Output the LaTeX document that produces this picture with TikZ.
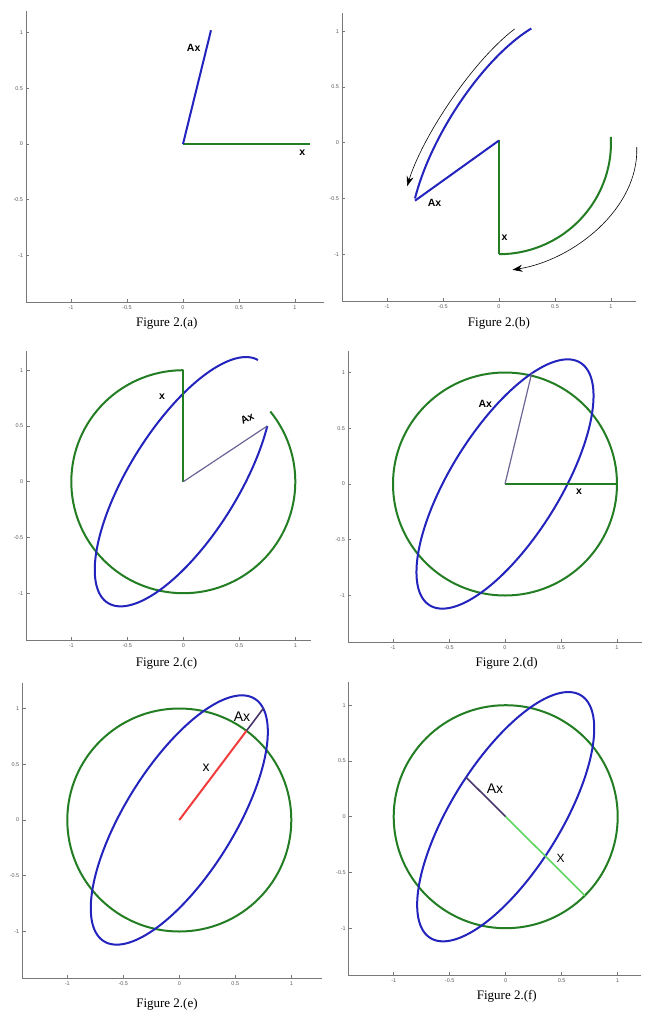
\documentclass[tikz,border=0pt]{standalone}
\usepackage{fontspec}
\setmainfont{Liberation Serif}
\newfontfamily\labelfont{Liberation Sans}
\usetikzlibrary{arrows.meta}
\definecolor{axisgray}{RGB}{120,120,120}
\definecolor{ticktext}{RGB}{95,95,95}
\definecolor{ellblue}{RGB}{35,35,190}
\definecolor{circgreen}{RGB}{35,125,35}
\definecolor{vecgray}{RGB}{110,100,150}
\definecolor{vecred}{RGB}{240,60,60}
\definecolor{vecdark}{RGB}{75,55,110}
\definecolor{lightgreen}{RGB}{95,215,95}
% L-shaped matlab axes: prefix, right end, top end
\newcommand{\plotaxes}[3]{%
  \draw[axisline] (-1.4,#3) -- (-1.4,-1.42) -- (#2,-1.42);
  \foreach \t [count=\i] in {-1,-0.5,0,0.5,1}{%
    \draw[axisline] (\t,-1.42) -- ++(0,3pt);
    \draw[axisline] (-1.4,\t) -- ++(3pt,0);
    \node[ticklabel,below=3pt] (#1xt\i) at (\t,-1.42) {\t};
    \node[ticklabel,left=3pt] (#1yt\i) at (-1.4,\t) {\t};
  }%
}

\begin{document}
\begin{tikzpicture}[x=1pt,y=-1pt,
    panel/.style 2 args={shift={(#1,#2)},x=112pt,y=111.5pt},
    axisline/.style={draw=axisgray,line width=0.9pt},
    ticklabel/.style={font=\labelfont\fontsize{5.5}{6}\selectfont,text=ticktext,inner sep=0pt},
    unitcirc/.style={draw=circgreen,line width=2pt},
    ellcurve/.style={draw=ellblue,line width=2pt},
    xvec/.style={draw=circgreen,line width=2pt},
    axvec/.style={draw=ellblue,line width=2pt},
    thinvec/.style={draw=vecgray,line width=1.2pt},
    boldlab/.style={font=\labelfont\bfseries\fontsize{10.5}{12}\selectfont,inner sep=0pt},
    plainlab/.style={font=\labelfont\fontsize{14}{16}\selectfont,inner sep=0pt},
    caption/.style={font=\fontsize{13}{15}\selectfont,inner sep=0pt},
    sweep/.style={-{Stealth[length=10pt,width=7pt]},line width=0.6pt},
    declare function={axu(\t)=0.25*cos(\t)+0.75*sin(\t); axv(\t)=cos(\t)+0.5*sin(\t);}]
  \useasboundingbox[fill=white] (0,0) rectangle (647,1010);

  % (a) starting vector
  \begin{scope}[panel={183}{144}]
    \plotaxes{a}{1.26}{1.19}
    \coordinate (Oa) at (0,0);
    \coordinate (xa) at (1.13,0);
    \coordinate (Axa) at (0.25,1.02);
    \draw[xvec] (Oa) -- (xa);
    \draw[axvec] (Oa) -- (Axa);
    \node[boldlab] (labAxa) at (0.095,0.86) {Ax};
    \node[boldlab] (labxa) at (1.065,-0.075) {x};
    \node[caption] (capa) at (-0.145,-1.61) {Figure 2.(a)};
  \end{scope}

  % (b) quarter turn
  \begin{scope}[panel={499}{142.7}]
    \plotaxes{b}{1.22}{1.16}
    \coordinate (Ob) at (0,0.02);
    \coordinate (gb) at (3:1);
    \coordinate (xb) at (0,-1);
    \coordinate (Axb) at (-0.75,-0.52);
    \draw[unitcirc] (gb) arc[start angle=3,end angle=-90,radius=1];
    \draw[ellcurve] plot[domain=-90:3,samples=60,smooth] ({axu(\x)},{axv(\x)});
    \draw[xvec] (Ob) -- (xb);
    \draw[axvec] (Ob) -- (Axb);
    \coordinate (swA1) at (0.14,1.02);
    \coordinate (swA2) at (-0.82,-0.39);
    \coordinate (swB1) at (1.23,-0.04);
    \coordinate (swB2) at (0.12,-1.14);
    \draw[sweep] (swA1) to[out=217,in=73,looseness=0.7] (swA2);
    \draw[sweep] (swB1) to[out=-88,in=9,looseness=0.9] (swB2);
    \node[boldlab] (labAxb) at (-0.575,-0.54) {Ax};
    \node[boldlab] (labxb) at (0.05,-0.85) {x};
    \node[caption] (capb) at (0,-1.62) {Figure 2.(b)};
  \end{scope}

  % (c) three quarters
  \begin{scope}[panel={183.3}{481.7}]
    \plotaxes{c}{1.14}{1.17}
    \coordinate (Oc) at (0,0);
    \coordinate (gc) at (39:1);
    \coordinate (xc) at (0,1);
    \coordinate (Axc) at (0.75,0.5);
    \draw[unitcirc] (gc) arc[start angle=39,end angle=-270,radius=1];
    \draw[ellcurve] plot[domain=-270:39,samples=150,smooth] ({axu(\x)},{axv(\x)});
    \draw[xvec] (Oc) -- (xc);
    \draw[thinvec] (Oc) -- (Axc);
    \node[boldlab] (labxc) at (-0.19,0.76) {x};
    \node[boldlab,rotate=27] (labAxc) at (0.57,0.565) {Ax};
    \node[caption] (capc) at (-0.15,-1.63) {Figure 2.(c)};
  \end{scope}

  % (d) full turn
  \begin{scope}[panel={505}{484}]
    \plotaxes{d}{1.22}{1.19}
    \coordinate (Od) at (0,0);
    \coordinate (xd) at (1,0);
    \coordinate (Axd) at (0.24,1);
    \draw[unitcirc] (Od) circle[radius=1];
    \draw[ellcurve] plot[domain=0:360,samples=150,smooth] ({axu(\x)},{axv(\x)});
    \draw[xvec] (Od) -- (xd);
    \draw[thinvec] (Od) -- (Axd);
    \node[boldlab] (labAxd) at (-0.176,0.716) {Ax};
    \node[boldlab] (labxd) at (0.66,-0.07) {x};
    \node[caption] (capd) at (0.015,-1.61) {Figure 2.(d)};
  \end{scope}

  % (e) first eigenvector
  \begin{scope}[panel={179.3}{820}]
    \plotaxes{e}{1.27}{1.23}
    \coordinate (Oe) at (0,0);
    \coordinate (xe) at (0.6,0.8);
    \coordinate (Axe) at (0.75,1);
    \draw[unitcirc] (Oe) circle[radius=1];
    \draw[ellcurve] plot[domain=0:360,samples=150,smooth] ({axu(\x)},{axv(\x)});
    \draw[draw=vecdark,line width=1.6pt] (xe) -- (Axe);
    \draw[draw=vecred,line width=2pt] (Oe) -- (xe);
    \node[plainlab] (labAxe) at (0.56,0.93) {Ax};
    \node[plainlab] (labxe) at (0.24,0.47) {x};
    \node[caption] (cape) at (-0.11,-1.65) {Figure 2.(e)};
  \end{scope}

  % (f) second eigenvector
  \begin{scope}[panel={505.7}{816.7}]
    \plotaxes{f}{1.21}{1.21}
    \coordinate (Of) at (0,0);
    \coordinate (xf) at (0.707,-0.707);
    \coordinate (Axf) at (-0.354,0.354);
    \draw[unitcirc] (Of) circle[radius=1];
    \draw[ellcurve] plot[domain=0:360,samples=150,smooth] ({axu(\x)},{axv(\x)});
    \draw[draw=vecdark,line width=1.6pt] (Of) -- (Axf);
    \draw[draw=lightgreen,line width=1.6pt] (Of) -- (xf);
    \node[plainlab] (labAxf) at (-0.095,0.254) {Ax};
    \node[plainlab,font=\labelfont\fontsize{12}{14}\selectfont] (labxf) at (0.49,-0.37) {X};
    \node[caption] (capf) at (0.01,-1.61) {Figure 2.(f)};
  \end{scope}
\end{tikzpicture}
\end{document}
